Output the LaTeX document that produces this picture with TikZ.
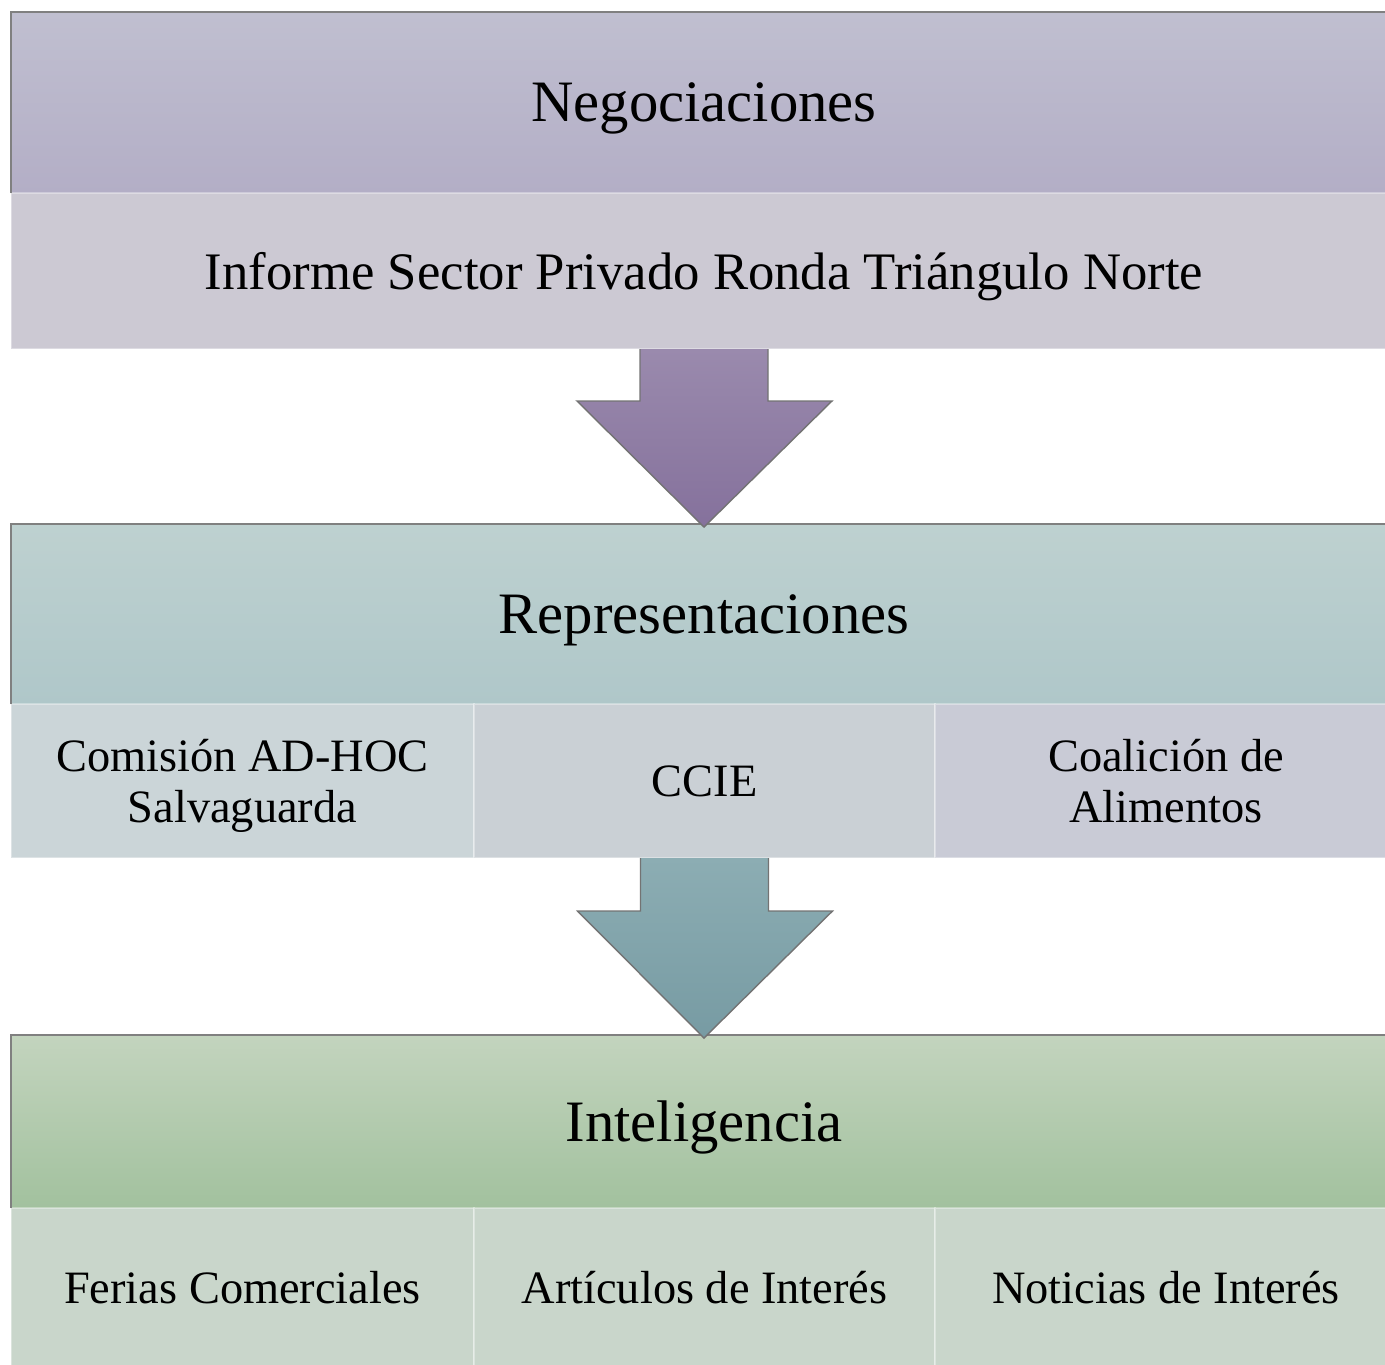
\documentclass[tikz,border=0pt]{standalone}
\usepackage{fontspec}
\setmainfont{Liberation Serif}
\usetikzlibrary{calc}

\definecolor{negtop}{HTML}{C0BFD0}
\definecolor{negbot}{HTML}{B3AEC6}
\definecolor{infcol}{HTML}{CCC9D3}
\definecolor{reptop}{HTML}{BED1D0}
\definecolor{repbot}{HTML}{AFC7C9}
\definecolor{repa}{HTML}{CBD5D8}
\definecolor{repb}{HTML}{CAD0D5}
\definecolor{repc}{HTML}{C9CBD6}
\definecolor{inttop}{HTML}{C3D4BE}
\definecolor{intbot}{HTML}{A2C19E}
\definecolor{intcol}{HTML}{C9D6CB}
\definecolor{arratop}{HTML}{9A8AAD}
\definecolor{arrabot}{HTML}{85719C}
\definecolor{arrbtop}{HTML}{8CADB3}
\definecolor{arrbbot}{HTML}{779BA3}

\begin{document}
\begin{tikzpicture}[x=0.1mm,y=-0.1mm,
	box/.style={anchor=north west,inner sep=0pt,outer sep=0pt,align=center,text depth=0pt},
	head/.style={box,minimum width=138.6mm,font=\fontsize{16.7}{20}\selectfont},
	sub/.style={box,draw=white,draw opacity=0.35,font=\fontsize{13.2}{14.6}\selectfont},
	rim/.style={draw=black!50,line width=0.4pt},
	blockarrow/.style={draw=black!55,line width=0.4pt}]
	\useasboundingbox (0,0) rectangle (1385,1364);
	\clip (0,0) rectangle (1385,1364);

	\node [head,minimum height=18.1mm,top color=negtop,bottom color=negbot] at (11,12) (neg) {Negociaciones};
	\node [sub,minimum width=138.6mm,minimum height=15.6mm,fill=infcol,font=\fontsize{15}{18}\selectfont] at (11,193) (inf) {Informe Sector Privado Ronda Triángulo Norte};

	\node [head,minimum height=18mm,top color=reptop,bottom color=repbot] at (11,524) (rep) {Representaciones};
	\node [sub,minimum width=46.3mm,minimum height=15.4mm,fill=repa] at (11,704) (com) {Comisión AD-HOC\\Salvaguarda};
	\node [sub,minimum width=46.1mm,minimum height=15.4mm,fill=repb] at (474,704) (ccie) {CCIE};
	\node [sub,minimum width=46.2mm,minimum height=15.4mm,fill=repc] at (935,704) (coal) {Coalición de\\Alimentos};

	\node [head,minimum height=17.3mm,top color=inttop,bottom color=intbot] at (11,1035) (intel) {Inteligencia};
	\node [sub,minimum width=46.3mm,minimum height=15.8mm,fill=intcol] at (11,1208) (fer) {Ferias Comerciales};
	\node [sub,minimum width=46.1mm,minimum height=15.8mm,fill=intcol] at (474,1208) (art) {Artículos de Interés};
	\node [sub,minimum width=46.2mm,minimum height=15.8mm,fill=intcol] at (935,1208) (noti) {Noticias de Interés};

	\draw [rim] (neg.south west) -- (neg.north west) -- (neg.north east);
	\draw [rim] (rep.south west) -- (rep.north west) -- (rep.north east);
	\draw [rim] (intel.south west) -- (intel.north west) -- (intel.north east);

	\shade [blockarrow,top color=arratop,bottom color=arrabot]
	($(inf.south)+(-64,0)$) -- ($(inf.south)+(-64,52)$) -- ($(inf.south)+(-127,52)$)
	-- ($(rep.north)+(0,3)$)
	-- ($(inf.south)+(128,52)$) -- ($(inf.south)+(64,52)$) -- ($(inf.south)+(64,0)$);
	\shade [blockarrow,top color=arrbtop,bottom color=arrbbot]
	($(ccie.south)+(-64,0)$) -- ($(ccie.south)+(-64,53)$) -- ($(ccie.south)+(-127,53)$)
	-- ($(intel.north)+(0,3)$)
	-- ($(ccie.south)+(128,53)$) -- ($(ccie.south)+(64,53)$) -- ($(ccie.south)+(64,0)$);
\end{tikzpicture}
\end{document}
